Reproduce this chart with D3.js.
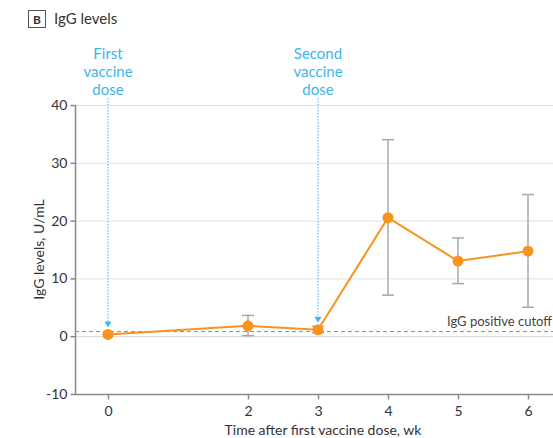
<!DOCTYPE html>
<html>
<head>
<meta charset="utf-8">
<script src="https://cdn.jsdelivr.net/npm/d3@7"></script>
<style>
  body { margin: 0; background: #fff; }
  svg { font-family: Lato, 'Open Sans', sans-serif; }
</style>
</head>
<body>
<svg width="553" height="438"></svg>
<script>
const weeks = [0, 2, 3, 4, 5, 6]
const igg = [0.3, 1.8, 1.1, 20.5, 13, 14.7]
const lower = [0.3, 0.1, 0.6, 7.1, 9.1, 5]
const upper = [0.3, 3.6, 1.7, 34, 17, 24.5]
const yTicks = [-10, 0, 10, 20, 30, 40]
const cutoff = 0.8
const doses = [
  { wk: 0, label: ['First', 'vaccine', 'dose'] },
  { wk: 3, label: ['Second', 'vaccine', 'dose'] },
]

const data = weeks.map((w, i) => ({ wk: w, v: igg[i], lo: lower[i], hi: upper[i] }))

const svg = d3.select('svg')
const plotLeft = 75, plotRight = 553, plotTop = 105, plotBottom = 394

const x = d3.scaleLinear().domain([0, 6]).range([108, 528])
const y = d3.scaleLinear().domain([-10, 40]).range([plotBottom, plotTop])

const orange = '#f7941d'
const blue = '#3db5ea'

// header
svg.append('rect').attr('x', 28.5).attr('y', 10.5).attr('width', 17).attr('height', 17)
  .attr('fill', 'none').attr('stroke', '#555')
svg.append('text').attr('x', 37).attr('y', 23.5).attr('text-anchor', 'middle')
  .attr('font-size', 12).attr('font-weight', 'bold').attr('fill', '#333').text('B')
svg.append('text').attr('x', 54).attr('y', 24).attr('font-size', 15).attr('fill', '#333').text('IgG levels')

// gridlines
svg.append('g').selectAll('line').data(yTicks.filter((d) => d > -10)).enter().append('line')
  .attr('x1', plotLeft).attr('x2', plotRight)
  .attr('y1', (d) => y(d) + 0.5).attr('y2', (d) => y(d) + 0.5)
  .attr('stroke', (d) => d === 0 ? '#d6d6d6' : '#e2e2e2').attr('stroke-width', 1)

// axes
const yAxis = d3.axisLeft(y).tickValues(yTicks).tickFormat((d) => d).tickSize(5).tickPadding(3)
const gy = svg.append('g').attr('transform', `translate(${plotLeft + 0.5},0)`).call(yAxis)
gy.select('.domain').attr('d', `M0,${plotTop}V${plotBottom}`)

const xAxis = d3.axisBottom(x).tickValues(weeks).tickFormat((d) => d).tickSize(5).tickPadding(7)
const gx = svg.append('g').attr('transform', `translate(0,${plotBottom + 0.5})`).call(xAxis)
gx.select('.domain').attr('d', `M${plotLeft},0H${plotRight}`)

svg.selectAll('.domain, .tick line').attr('stroke', '#8a8a8a').attr('stroke-width', 1.5)
svg.selectAll('.tick text').attr('font-size', 14).attr('fill', '#333')
  .attr('font-family', 'Lato, sans-serif')

// axis titles
svg.append('text').attr('transform', `translate(44,${y(15)}) rotate(-90)`)
  .attr('text-anchor', 'middle').attr('font-size', 14).attr('fill', '#333').text('IgG levels, U/mL')
svg.append('text').attr('x', 323).attr('y', 435).attr('text-anchor', 'middle')
  .attr('font-size', 14).attr('fill', '#333').text('Time after first vaccine dose, wk')

// cutoff
svg.append('line').attr('x1', plotLeft).attr('x2', plotRight)
  .attr('y1', y(cutoff)).attr('y2', y(cutoff))
  .attr('stroke', '#8a8a8a').attr('stroke-dasharray', '4,3').attr('stroke-width', 1)
svg.append('text').attr('x', 552).attr('y', y(cutoff) - 6).attr('text-anchor', 'end')
  .attr('font-size', 13).attr('fill', '#444').text('IgG positive cutoff')

// dose markers
const dg = svg.append('g').selectAll('g').data(doses).enter().append('g')
dg.append('line').attr('x1', (d) => x(d.wk)).attr('x2', (d) => x(d.wk))
  .attr('y1', 98).attr('y2', (d) => y(igg[weeks.indexOf(d.wk)]) - 13)
  .attr('stroke', blue).attr('stroke-width', 1).attr('stroke-dasharray', '1.5,1.5')
dg.append('path').attr('d', (d) => {
  const cx = x(d.wk), cy = y(igg[weeks.indexOf(d.wk)]) - 7
  return `M${cx - 3.5},${cy - 6}L${cx + 3.5},${cy - 6}L${cx},${cy}Z`
}).attr('fill', blue)
dg.each(function (d) {
  const t = d3.select(this).append('text').attr('text-anchor', 'middle')
    .attr('font-size', 15).attr('fill', blue)
  d.label.forEach((s, i) => {
    t.append('tspan').attr('x', x(d.wk)).attr('y', 59 + i * 18).text(s)
  })
})

// error bars
const eb = svg.append('g').selectAll('g').data(data.filter((d) => d.hi > d.lo)).enter().append('g')
  .attr('stroke', '#a8a8a8').attr('stroke-width', 1.5)
eb.append('line').attr('x1', (d) => x(d.wk)).attr('x2', (d) => x(d.wk))
  .attr('y1', (d) => y(d.hi)).attr('y2', (d) => y(d.lo))
eb.append('line').attr('x1', (d) => x(d.wk) - 6).attr('x2', (d) => x(d.wk) + 6)
  .attr('y1', (d) => y(d.hi)).attr('y2', (d) => y(d.hi))
eb.append('line').attr('x1', (d) => x(d.wk) - 6).attr('x2', (d) => x(d.wk) + 6)
  .attr('y1', (d) => y(d.lo)).attr('y2', (d) => y(d.lo))

// line and points
svg.append('path').datum(data)
  .attr('d', d3.line().x((d) => x(d.wk)).y((d) => y(d.v)))
  .attr('fill', 'none').attr('stroke', orange).attr('stroke-width', 2)
svg.append('g').selectAll('circle').data(data).enter().append('circle')
  .attr('cx', (d) => x(d.wk)).attr('cy', (d) => y(d.v)).attr('r', 5.5).attr('fill', orange)
</script>
</body>
</html>
